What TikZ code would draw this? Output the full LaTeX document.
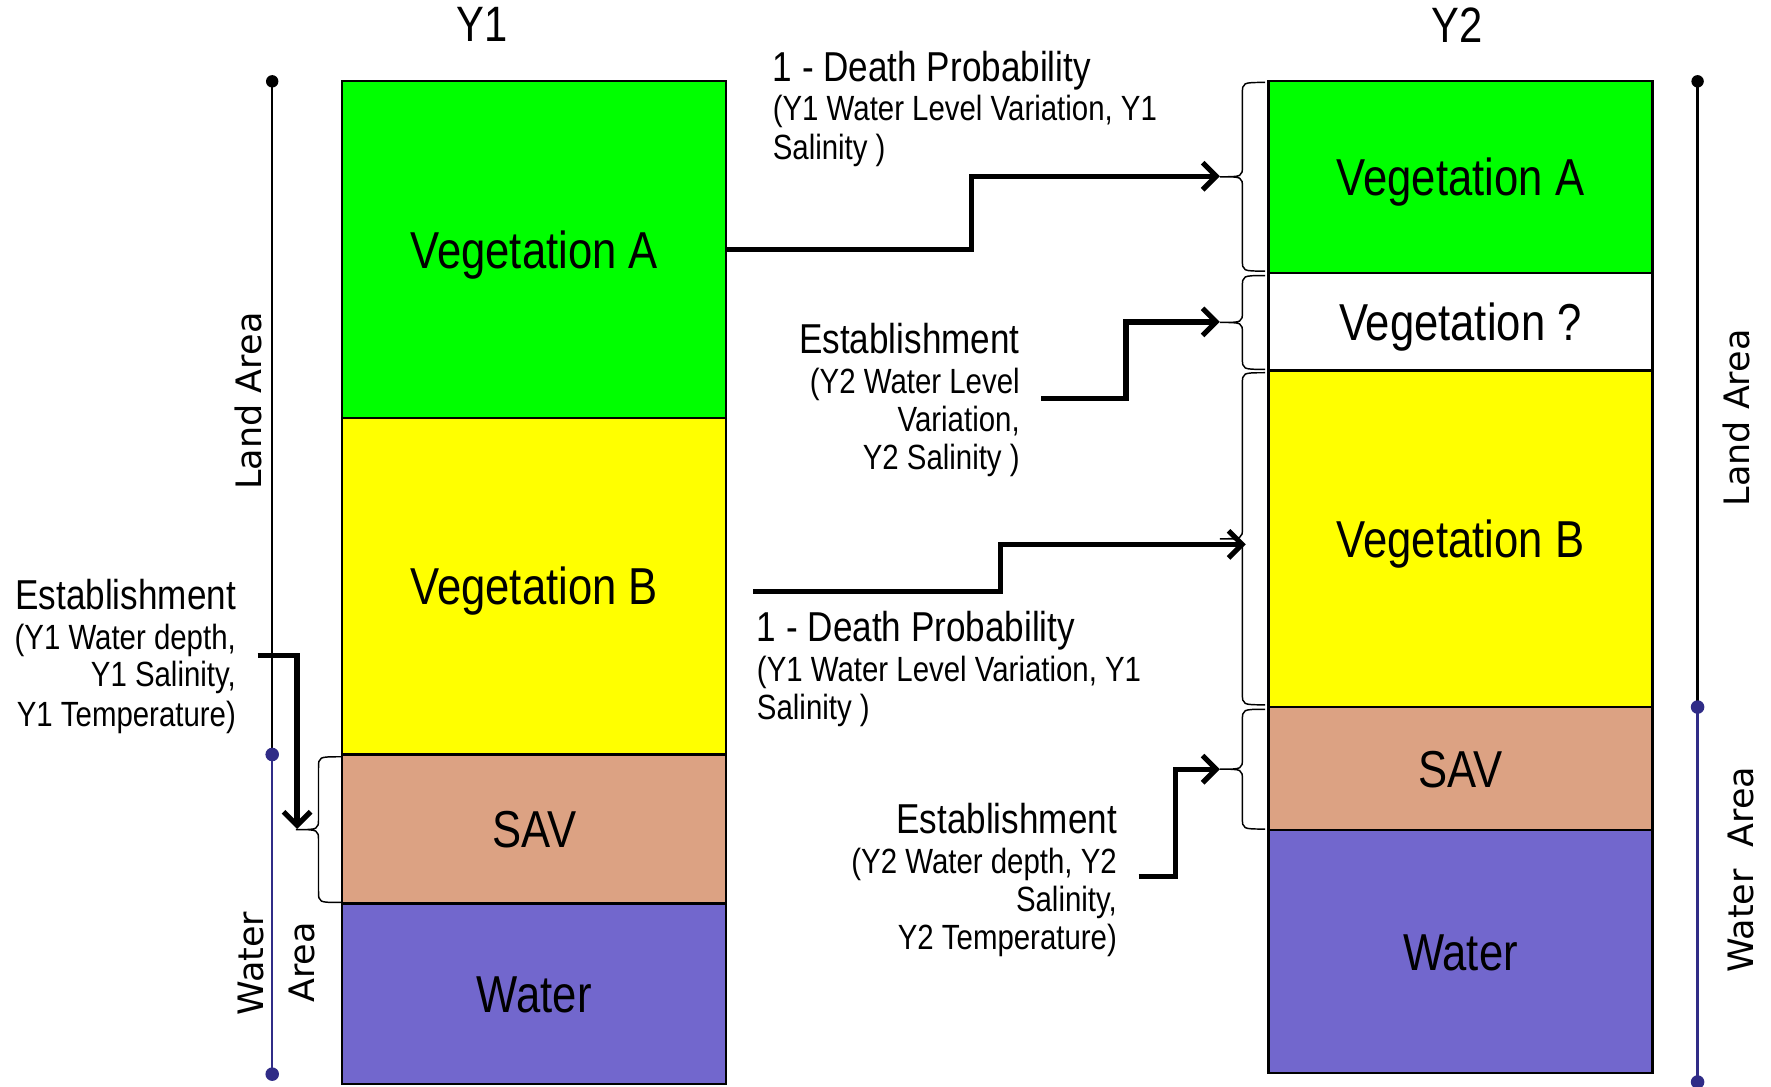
\documentclass[tikz,border=0pt]{standalone}
\usepackage{fontspec}
\setmainfont[FakeStretch=0.84]{Liberation Sans}
\newfontfamily\axisfont{DejaVu Sans}
\usetikzlibrary{arrows.meta,calc}
\definecolor{vegA}{RGB}{0,255,0}
\definecolor{vegB}{RGB}{255,255,0}
\definecolor{savc}{RGB}{220,162,131}
\definecolor{waterc}{RGB}{114,103,205}
\definecolor{navyc}{RGB}{48,44,135}
% #1 x of the ends, #2 top, #3 bottom
\newcommand\mybrace[3]{%
  \draw[brc] (#1,#2) .. controls ({#1-20},#2) and ({#1-20},#2) .. ({#1-20},{#2+10})
    -- ({#1-20},{(#2+#3)/2-10}) .. controls ({#1-20},{(#2+#3)/2}) and ({#1-20},{(#2+#3)/2}) .. ({#1-40},{(#2+#3)/2})
    .. controls ({#1-20},{(#2+#3)/2}) and ({#1-20},{(#2+#3)/2}) .. ({#1-20},{(#2+#3)/2+10})
    -- ({#1-20},{#3-10}) .. controls ({#1-20},#3) and ({#1-20},#3) .. (#1,#3);}
\begin{document}
\begin{tikzpicture}[x=1pt,y=-1pt,
  layer/.style={draw=black,line width=2pt,inner sep=0pt,outer sep=0pt,minimum width=340pt,anchor=north west,font=\fontsize{46}{50}\selectfont,text height=33pt,text depth=0pt},
  flow/.style={line width=4.6pt,-{Straight Barb[length=12pt,width=24pt]}},
  brc/.style={line width=1.3pt},
  head/.style={font=\fontsize{37}{41}\selectfont,inner sep=0pt},
  detail/.style={font=\fontsize{31}{35}\selectfont,inner sep=0pt},
  axislabel/.style={font=\axisfont\fontsize{31}{35}\selectfont,rotate=90,inner sep=0pt},
  title/.style={font=\fontsize{44}{48}\selectfont,inner sep=0pt}]
\useasboundingbox (0,0) rectangle (1568,962);

% titles
\node[title] (y1) at (427,22) {Y1};
\node[title] (y2) at (1290,22) {Y2};

% Y1 column
\node[layer,fill=vegA,minimum height=298pt] (VA1) at (303,72) {Vegetation A};
\node[layer,fill=vegB,minimum height=298pt] (VB1) at (303,370) {Vegetation B};
\node[layer,fill=savc,minimum height=132pt] (SAV1) at (303,668) {SAV};
\node[layer,fill=waterc,minimum height=160pt] (W1) at (303,800) {Water};

% Y2 column
\node[layer,fill=vegA,minimum height=170pt] (VA2) at (1123,72) {Vegetation A};
\node[layer,fill=white,minimum height=86pt] (VQ2) at (1123,242) {Vegetation ?};
\node[layer,fill=vegB,minimum height=298pt] (VB2) at (1123,328) {Vegetation B};
\node[layer,fill=savc,minimum height=109pt] (SAV2) at (1123,626) {SAV};
\node[layer,fill=waterc,minimum height=215pt] (W2) at (1123,735) {Water};

% axes
\draw[line width=2pt] (241,72) -- (241,668);
\draw[line width=2pt,navyc] (241,668) -- (241,951);
\fill (241,72) circle (5.5pt);
\fill[navyc] (241,668) circle (6pt);
\fill[navyc] (241,951) circle (6pt);
\draw[line width=2pt] (1503,72) -- (1503,626);
\draw[line width=2pt,navyc] (1503,626) -- (1503,962);
\fill (1503,72) circle (5.5pt);
\fill[navyc] (1503,626) circle (6pt);
\fill[navyc] (1503,958) circle (6pt);

\node[axislabel] (landL) at (220,355) {Land Area};
\node[axislabel] (waterL) at (222,853) {Water};
\node[axislabel] (areaL) at (267,852) {Area};
\node[axislabel] (landR) at (1537,370) {Land Area};
\node[axislabel] (waterR) at (1541,770) {Water\ \ Area};

% braces
\mybrace{1120}{73}{240}
\mybrace{1120}{244}{327}
\mybrace{1120}{330}{624}
\mybrace{1120}{628}{734}
\mybrace{302}{670}{799}
\coordinate (b1tip) at (1080,156);
\coordinate (b2tip) at (1080,285);
\coordinate (b3end) at (1103,482);
\coordinate (b4tip) at (1080,681);
\coordinate (b5tip) at (263,734);

% texts
\node[head,anchor=base west] (dpA1) at (684,72) {1 - Death Probability};
\node[detail,anchor=base west] (dpA2) at (684,107) {(Y1 Water Level Variation, Y1};
\node[detail,anchor=base west] (dpA3) at (684,141) {Salinity )};

\node[head,anchor=base east] (esA1) at (903,313) {Establishment};
\node[detail,anchor=base east] (esA2) at (903,348) {(Y2 Water Level};
\node[detail,anchor=base east] (esA3) at (903,382) {Variation,};
\node[detail,anchor=base east] (esA4) at (903,416) {Y2 Salinity )};

\node[head,anchor=base west] (dpB1) at (670,568) {1 - Death Probability};
\node[detail,anchor=base west] (dpB2) at (670,603) {(Y1 Water Level Variation, Y1};
\node[detail,anchor=base west] (dpB3) at (670,637) {Salinity )};

\node[head,anchor=base east] (esB1) at (989,738) {Establishment};
\node[detail,anchor=base east] (esB2) at (989,773) {(Y2 Water depth, Y2};
\node[detail,anchor=base east] (esB3) at (989,807) {Salinity,};
\node[detail,anchor=base east] (esB4) at (989,841) {Y2 Temperature)};

\node[head,anchor=base east] (esC1) at (209,540) {Establishment};
\node[detail,anchor=base east] (esC2) at (209,575) {(Y1 Water depth,};
\node[detail,anchor=base east] (esC3) at (209,608) {Y1 Salinity,};
\node[detail,anchor=base east] (esC4) at (209,643) {Y1 Temperature)};

% flows
\coordinate (e2s) at (922,353);
\coordinate (e3s) at (667,524);
\coordinate (e4s) at (1008,776);
\coordinate (e5s) at (228,580);
\draw[flow] (VA1.east) -- (860,221) |- (b1tip);
\draw[flow] (e2s) -- (997,353) |- (b2tip);
\draw[flow] (e3s) -- (886,524) |- (b3end);
\draw[flow] (e4s) -- (1041,776) |- (b4tip);
\draw[flow] (e5s) -| (b5tip);
\end{tikzpicture}
\end{document}
